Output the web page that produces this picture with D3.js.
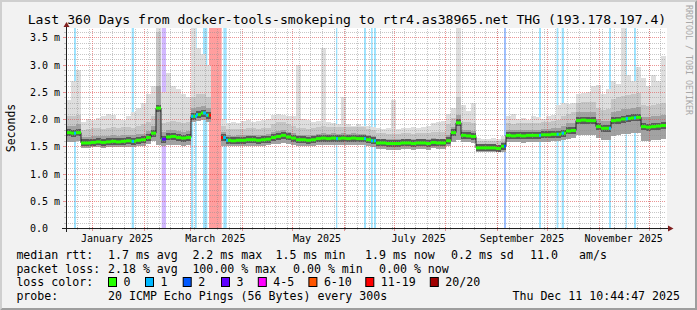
<!DOCTYPE html>
<html>
<head>
<meta charset="utf-8">
<script src="https://cdn.jsdelivr.net/npm/d3@7"></script>
<style>
body { margin: 0; background: #f2f2f2; }
svg { display: block; }
text { font-family: "DejaVu Sans Mono", monospace; fill: #000; }
</style>
</head>
<body>
<svg id="chart" width="697" height="310"></svg>
<script>
// graph window, one sample every 3 days
var startTime = new Date(2024, 11, 16, 10, 44, 47);
var endTime = new Date(2025, 11, 11, 10, 44, 47);
var stepDays = 3;

var titleText = "Last 360 Days from docker-tools-smokeping to rtr4.as38965.net THG (193.178.197.4)";

// median rtt in ms
var median = [1.75,1.74,1.75,1.56,1.56,1.57,1.58,1.57,1.58,1.59,
  1.58,1.59,1.60,1.59,1.61,1.62,1.66,1.74,2.20,1.63,
  1.67,1.68,1.66,1.65,1.66,2.05,2.08,2.11,2.07,null,
  null,1.66,1.61,1.60,1.61,1.61,1.62,1.62,1.61,1.62,
  1.63,1.66,1.68,1.70,1.67,1.65,1.62,1.62,1.61,1.62,
  1.64,1.65,1.64,1.65,1.64,1.65,1.64,1.65,1.64,1.64,
  1.62,1.60,1.56,1.56,1.55,1.55,1.55,1.56,1.56,1.55,
  1.56,1.56,1.55,1.57,1.56,1.56,1.60,1.75,1.93,1.70,
  1.69,1.68,1.47,1.47,1.47,1.47,1.46,1.50,1.70,1.69,
  1.70,1.69,1.70,1.70,1.70,1.71,1.71,1.72,1.72,1.74,
  1.78,1.79,1.97,1.98,1.97,1.97,1.86,1.83,1.83,1.97,
  1.98,2.00,2.01,2.02,2.03,1.86,1.85,1.86,1.87,1.88];

// smoke: bottom, top of dark core, top of medium gray, top of light gray (ms)
var smokeLo = [1.58,1.58,1.59,1.47,1.47,1.48,1.48,1.47,1.48,1.49,
  1.48,1.49,1.49,1.48,1.50,1.50,1.54,1.60,1.52,1.50,
  1.52,1.53,1.52,1.51,1.52,1.95,1.97,1.98,1.95,null,
  null,1.50,1.50,1.50,1.50,1.51,1.51,1.51,1.50,1.51,
  1.52,1.54,1.55,1.56,1.54,1.52,1.51,1.50,1.50,1.51,
  1.52,1.53,1.52,1.53,1.52,1.53,1.52,1.53,1.52,1.52,
  1.50,1.49,1.45,1.45,1.44,1.44,1.44,1.45,1.45,1.44,
  1.45,1.45,1.44,1.46,1.45,1.45,1.50,1.58,1.62,1.58,
  1.57,1.56,1.40,1.40,1.40,1.40,1.39,1.40,1.58,1.57,
  1.57,1.56,1.57,1.57,1.57,1.58,1.58,1.59,1.59,1.61,
  1.64,1.65,1.70,1.71,1.70,1.70,1.66,1.62,1.62,1.68,
  1.70,1.72,1.73,1.74,1.75,1.60,1.60,1.61,1.62,1.63];

var smokeDark = [1.88,1.88,1.90,1.67,1.67,1.68,1.69,1.68,1.69,1.70,
  1.69,1.70,1.71,1.70,1.72,1.73,1.78,1.88,2.60,1.76,
  1.79,1.80,1.78,1.77,1.78,2.20,2.22,2.24,2.20,null,
  null,1.76,1.70,1.69,1.70,1.70,1.71,1.71,1.70,1.71,
  1.72,1.76,1.78,1.80,1.77,1.75,1.71,1.71,1.70,1.71,
  1.73,1.74,1.73,1.74,1.73,1.74,1.73,1.74,1.73,1.73,
  1.71,1.69,1.64,1.64,1.63,1.63,1.63,1.64,1.64,1.63,
  1.64,1.64,1.63,1.65,1.64,1.64,1.70,1.86,2.08,1.80,
  1.79,1.78,1.54,1.54,1.54,1.54,1.53,1.57,1.80,1.79,
  1.80,1.79,1.80,1.80,1.80,1.81,1.81,1.83,1.84,1.87,
  1.92,1.93,2.12,2.13,2.12,2.12,2.00,1.96,1.97,2.12,
  2.15,2.18,2.19,2.21,2.22,2.04,2.03,2.05,2.06,2.08];

var smokeMid = [2.05,2.05,2.08,1.80,1.82,1.83,1.84,1.82,1.84,1.86,
  1.84,1.85,1.86,1.84,1.88,1.90,1.95,2.05,3.60,1.92,
  1.95,1.96,1.94,1.93,1.94,2.40,2.45,2.45,2.40,null,
  null,1.88,1.82,1.81,1.82,1.82,1.83,1.83,1.82,1.83,
  1.84,1.90,1.94,1.95,1.90,1.87,1.83,1.83,1.82,1.83,
  1.86,1.87,1.86,1.86,1.85,1.86,1.85,1.86,1.85,1.85,
  1.82,1.80,1.74,1.74,1.73,1.73,1.73,1.74,1.74,1.73,
  1.74,1.75,1.74,1.76,1.76,1.77,1.90,2.02,2.40,1.95,
  1.94,1.93,1.60,1.60,1.60,1.60,1.59,1.64,1.92,1.91,
  1.92,1.92,1.93,1.93,1.93,1.94,1.95,1.97,1.99,2.05,
  2.10,2.12,2.30,2.32,2.31,2.32,2.20,2.16,2.18,2.36,
  2.40,2.42,2.44,2.46,2.48,2.25,2.24,2.26,2.28,2.30];

var smokeHi = [2.35,2.70,2.90,1.95,2.00,1.98,2.02,2.05,2.10,2.08,
  2.00,1.98,2.05,2.12,2.20,2.30,2.45,2.60,3.67,2.50,
  2.85,2.60,2.55,2.45,2.40,3.67,3.30,3.20,3.00,null,
  null,2.00,1.93,1.95,1.92,1.96,1.98,1.95,1.97,1.98,
  2.00,2.08,2.10,2.08,2.05,2.05,3.00,2.00,1.98,1.95,
  1.97,3.30,1.95,1.92,1.90,2.40,1.90,1.88,1.90,1.88,
  1.87,1.86,1.83,1.82,1.84,2.35,1.82,1.83,1.84,1.85,
  1.84,1.86,1.88,1.92,1.95,1.97,2.10,2.20,3.67,2.25,
  2.15,2.30,1.65,1.63,1.64,1.66,1.64,1.68,2.05,2.10,
  2.00,2.02,1.98,2.05,2.03,2.00,2.05,2.08,2.25,2.30,
  2.28,2.30,2.45,2.48,2.50,2.60,2.62,2.45,2.55,2.70,
  2.65,3.67,2.80,2.70,2.95,2.75,2.60,2.80,2.70,3.15];

// loss events: day offsets from graph start, and loss count class
var lossFrom  = [4.8, 39.4, 57.4, 75.0, 77.4, 82.2, 85.8, 94.4, 162.0, 178.8, 183.0, 184.8, 262.8, 283.8, 294.4, 297.4, 325.8, 335.8, 340.8];
var lossTo    = [6.0, 40.8, 60.0, 76.4, 78.4, 84.8, 93.4, 96.4, 162.8, 180.0, 184.0, 186.0, 264.0, 285.0, 295.4, 298.8, 327.0, 336.4, 342.0];
var lossClass = [1, 1, 3, 1, 1, 1, 19, 1, 1, 1, 1, 1, 2, 1, 1, 1, 1, 1, 1];

// loss color legend
var lossKeys   = [0, 1, 2, 3, 5, 10, 19, 20];
var lossLabels = ["0", "1", "2", "3", "4-5", "6-10", "11-19", "20/20"];
var lossColors = ["#26ff00", "#00b8ff", "#0059ff", "#5e00ff", "#ff00ff", "#ff5500", "#ff0000", "#a10000"];

// axis labels
var yMajor = [0, 0.5, 1.0, 1.5, 2.0, 2.5, 3.0, 3.5];
var yTickLabels = ["0.0", "0.5 m", "1.0 m", "1.5 m", "2.0 m", "2.5 m", "3.0 m", "3.5 m"];
var labelMonths = [0, 2, 4, 6, 8, 10];

// legend texts
var rttStats  = ["1.7 ms avg", "2.2 ms max", "1.5 ms min", "1.9 ms now", "0.2 ms sd", "11.0", "am/s"];
var lossStats = ["2.18 % avg", "100.00 % max", "0.00 % min", "0.00 % now"];
var probeText = "20 ICMP Echo Pings (56 Bytes) every 300s";
var stampText = "Thu Dec 11 10:44:47 2025";

// ---------- layout ----------
var W = 697, H = 310;
var X0 = 66, X1 = 666, Y0 = 228, Y1 = 28;
var svg = d3.select('#chart');

var x = d3.scaleTime().domain([startTime, endTime]).range([X0, X1]);
var y = d3.scaleLinear().domain([0, 3.67]).range([Y0, Y1]);
var dayTime = function (d) { return new Date(+startTime + d * 864e5); };
var sampleTime = function (i) { return dayTime(i * stepDays); };
var colorOf = function (k) { return lossColors[lossKeys.indexOf(k)]; };

// background, 3d frame, canvas
svg.append('rect').attr('width', W).attr('height', H).attr('fill', '#f2f2f2');
svg.append('path').attr('d', 'M0,0H697L695,2H2V308L0,310Z').attr('fill', '#cfcfcf');
svg.append('path').attr('d', 'M697,0V310H0L2,308H695V2Z').attr('fill', '#9e9e9e');
svg.append('rect').attr('x', X0).attr('y', Y1).attr('width', X1 - X0 + 1).attr('height', Y0 - Y1).attr('fill', '#fff');

// loss background bars
svg.append('g').selectAll('rect')
  .data(d3.range(lossFrom.length))
  .join('rect')
  .attr('x', function (i) { return x(dayTime(lossFrom[i])); })
  .attr('width', function (i) { return Math.max(1.2, x(dayTime(lossTo[i])) - x(dayTime(lossFrom[i]))); })
  .attr('y', Y1)
  .attr('height', Y0 - Y1)
  .attr('fill', function (i) { return colorOf(lossClass[i]); })
  .attr('opacity', function (i) { return lossClass[i] === 3 ? 0.28 : 0.38; });

// smoke bands
var idx = d3.range(median.length);
function band(lo, hi, color) {
  svg.append('g').selectAll('rect')
    .data(idx.filter(function (i) { return lo[i] != null && hi[i] != null; }))
    .join('rect')
    .attr('x', function (i) { return x(sampleTime(i)); })
    .attr('width', function (i) { return x(sampleTime(i + 1)) - x(sampleTime(i)); })
    .attr('y', function (i) { return y(hi[i]); })
    .attr('height', function (i) { return y(lo[i]) - y(hi[i]); })
    .attr('fill', color)
    .attr('shape-rendering', 'crispEdges');
}
band(smokeLo, smokeHi, '#dedede');
band(smokeLo, smokeMid, '#c6c6c6');
band(smokeLo, smokeDark, '#a2a2a2');

// dark core around the median
svg.append('g').selectAll('rect')
  .data(idx.filter(function (i) { return median[i] != null; }))
  .join('rect')
  .attr('x', function (i) { return x(sampleTime(i)); })
  .attr('width', function (i) { return x(sampleTime(i + 1)) - x(sampleTime(i)); })
  .attr('y', function (i) { return y(median[i]) - 3.5; })
  .attr('height', 7)
  .attr('fill', '#5a5a5a')
  .attr('shape-rendering', 'crispEdges');

// ---------- grid ----------
var grid = svg.append('g');
var crisp = function (v) { return Math.round(v) + 0.5; };
var minorY = d3.range(1, 37).map(function (k) { return k / 10; }).filter(function (v) { return Math.round(v * 10) % 5 !== 0; });
var majorY = yMajor.filter(function (v) { return v > 0; });
var minorX = d3.timeMonday.range(startTime, endTime);
var majorX = d3.timeMonth.range(startTime, endTime);
var gridColor = 'rgba(143,143,143,0.5)';
var mgridColor = 'rgba(222,79,79,0.6)';

function hLines(vals, color, tick) {
  grid.append('g').selectAll('line').data(vals).join('line')
    .attr('x1', X0).attr('x2', X1)
    .attr('y1', function (v) { return crisp(y(v)); }).attr('y2', function (v) { return crisp(y(v)); })
    .attr('stroke', color).attr('stroke-dasharray', '1,1');
  grid.append('g').selectAll('line').data(vals).join('line')
    .attr('x1', X0 - tick).attr('x2', X0 + 1)
    .attr('y1', function (v) { return crisp(y(v)); }).attr('y2', function (v) { return crisp(y(v)); })
    .attr('stroke', color);
}
function vLines(vals, color, tick) {
  grid.append('g').selectAll('line').data(vals).join('line')
    .attr('y1', Y0).attr('y2', Y1)
    .attr('x1', function (d) { return crisp(x(d)); }).attr('x2', function (d) { return crisp(x(d)); })
    .attr('stroke', color).attr('stroke-dasharray', '1,1');
  grid.append('g').selectAll('line').data(vals).join('line')
    .attr('y1', Y0 - 1).attr('y2', Y0 + tick)
    .attr('x1', function (d) { return crisp(x(d)); }).attr('x2', function (d) { return crisp(x(d)); })
    .attr('stroke', color);
}
hLines(minorY, gridColor, 2);
hLines(majorY, mgridColor, 3);
vLines(minorX, gridColor, 2);
vLines(majorX, mgridColor, 3);

// ---------- median line ----------
var stepLine = d3.line()
  .defined(function (d) { return d[1] != null; })
  .x(function (d) { return x(d[0]); })
  .y(function (d) { return y(d[1]); })
  .curve(d3.curveStepAfter);
var pts = idx.map(function (i) { return [sampleTime(i), median[i]]; });
pts.push([sampleTime(median.length), median[median.length - 1]]);
svg.append('path').attr('d', stepLine(pts)).attr('fill', 'none').attr('stroke', '#202020').attr('stroke-width', 1);

svg.append('g').selectAll('rect')
  .data(idx.filter(function (i) { return median[i] != null; }))
  .join('rect')
  .attr('x', function (i) { return x(sampleTime(i)); })
  .attr('width', function (i) { return x(sampleTime(i + 1)) - x(sampleTime(i)); })
  .attr('y', function (i) { return y(median[i]) - 1.5; })
  .attr('height', 3)
  .attr('fill', lossColors[0]);

// median colored by loss where loss happened
var lossMarks = [];
lossFrom.forEach(function (f, k) {
  idx.forEach(function (i) {
    var a = Math.max(f, i * stepDays), b = Math.min(lossTo[k], (i + 1) * stepDays);
    if (b > a && median[i] != null) lossMarks.push({ a: a, b: b, v: median[i], c: lossClass[k] });
  });
});
svg.append('g').selectAll('rect').data(lossMarks).join('rect')
  .attr('x', function (d) { return x(dayTime(d.a)); })
  .attr('width', function (d) { return Math.max(2, x(dayTime(d.b)) - x(dayTime(d.a))); })
  .attr('y', function (d) { return y(d.v) - 1.5; })
  .attr('height', 3)
  .attr('fill', function (d) { return colorOf(d.c); });

// ---------- axes ----------
svg.append('line').attr('x1', X0 - 4).attr('x2', X1 + 3).attr('y1', Y0 + 0.5).attr('y2', Y0 + 0.5).attr('stroke', '#1f1f1f');
svg.append('line').attr('x1', X0 + 0.5).attr('x2', X0 + 0.5).attr('y1', Y0 + 4).attr('y2', Y1 - 2).attr('stroke', '#1f1f1f');
svg.append('path').attr('d', 'M' + (X1 + 2) + ',' + (Y0 - 2.5) + 'L' + (X1 + 7.5) + ',' + (Y0 + 0.5) + 'L' + (X1 + 2) + ',' + (Y0 + 3.5) + 'Z').attr('fill', '#801f1f');
svg.append('path').attr('d', 'M' + (X0 - 2.5) + ',' + (Y1 - 1) + 'L' + (X0 + 0.5) + ',' + (Y1 - 6) + 'L' + (X0 + 3.5) + ',' + (Y1 - 1) + 'Z').attr('fill', '#801f1f');

var xAxis = d3.axisBottom(x)
  .tickValues(labelMonths.map(function (m) { return new Date(2025, m, 15, 18); }))
  .tickFormat(d3.timeFormat('%B %Y'))
  .tickSize(0);
var gx = svg.append('g').attr('transform', 'translate(0,' + Y0 + ')').call(xAxis);
gx.select('.domain').remove();
gx.attr('font-family', null).attr('font-size', null);
gx.selectAll('text').attr('y', 6.5).style('font-size', '10px');

var yAxis = d3.axisLeft(y).tickValues(yMajor).tickFormat(function (d, i) { return yTickLabels[i]; }).tickSize(0);
var gy = svg.append('g').attr('transform', 'translate(' + X0 + ',0)').call(yAxis);
gy.select('.domain').remove();
gy.attr('font-family', null).attr('font-size', null).attr('text-anchor', null);
gy.selectAll('text').attr('x', 30 - X0).attr('text-anchor', 'start').attr('dy', '0.36em').style('font-size', '10px');

svg.append('text').attr('transform', 'translate(15,128) rotate(-90)').attr('text-anchor', 'middle')
  .style('font-size', '11.5px').text('Seconds');

// title and watermark
svg.append('text').attr('x', 347).attr('y', 23.5).attr('text-anchor', 'middle')
  .style('font-size', '13.1px').text(titleText);
svg.append('text').attr('transform', 'translate(685.5,5) rotate(90)')
  .style('font-size', '8.3px').style('fill', '#a8a8a8').text('RRDTOOL / TOBI OETIKER');

// ---------- legend ----------
var legend = svg.append('g').style('font-size', '11.6px');
var rowY = [258.5, 272.5, 286, 300];
var rttX = [108, 192.4, 275.6, 365, 451, 530, 579];
var lossX = [108, 192.4, 293, 379];
var boxX = [108, 145, 182.7, 221, 257.8, 308.4, 365.3, 429.8];

legend.append('text').attr('x', 16.4).attr('y', rowY[0]).text('median rtt:');
legend.selectAll('.rtt').data(rttStats).join('text').attr('class', 'rtt')
  .attr('x', function (d, i) { return rttX[i]; }).attr('y', rowY[0]).text(function (d) { return d; });

legend.append('text').attr('x', 16.4).attr('y', rowY[1]).text('packet loss:');
legend.selectAll('.pl').data(lossStats).join('text').attr('class', 'pl')
  .attr('x', function (d, i) { return lossX[i]; }).attr('y', rowY[1]).text(function (d) { return d; });

legend.append('text').attr('x', 16.4).attr('y', rowY[2]).text('loss color:');
legend.selectAll('.lb').data(lossColors).join('rect').attr('class', 'lb')
  .attr('x', function (d, i) { return boxX[i] + 0.5; }).attr('y', rowY[2] - 8.5)
  .attr('width', 8).attr('height', 9)
  .attr('fill', function (d) { return d; }).attr('stroke', '#000');
legend.selectAll('.ll').data(lossLabels).join('text').attr('class', 'll')
  .attr('x', function (d, i) { return boxX[i] + 15.5; }).attr('y', rowY[2]).text(function (d) { return d; });

legend.append('text').attr('x', 16.4).attr('y', rowY[3]).text('probe:');
legend.append('text').attr('x', 108).attr('y', rowY[3]).text(probeText);
legend.append('text').attr('x', 680).attr('y', rowY[3]).attr('text-anchor', 'end').text(stampText);
</script>
</body>
</html>
